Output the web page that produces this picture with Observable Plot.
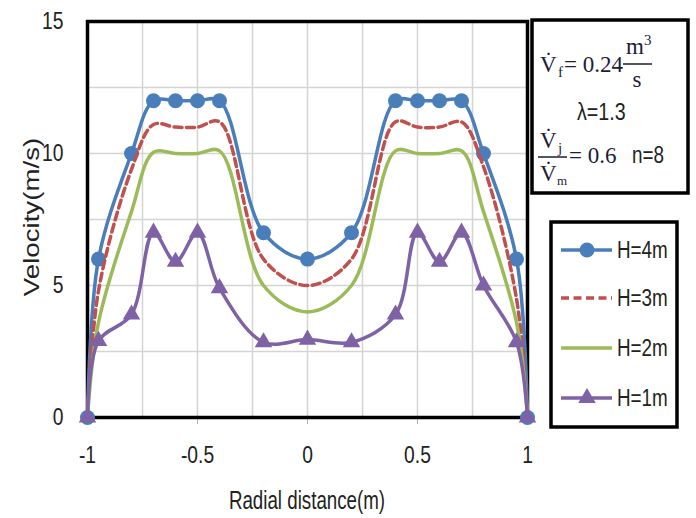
<!DOCTYPE html>
<html><head><meta charset="utf-8">
<script src="https://cdn.jsdelivr.net/npm/d3@7"></script>
<script src="https://cdn.jsdelivr.net/npm/@observablehq/plot@0.6"></script>
<style>
body{margin:0;background:#fff;}
#wrap{position:relative;width:696px;height:518px;overflow:hidden;background:#fff;}
[aria-label="x-axis tick"]{stroke:#b0b0b0;}
</style></head><body><div id="wrap"></div>
<script>
// Data
const radial = [-1, -0.95, -0.8, -0.7, -0.6, -0.5, -0.4, -0.2, 0, 0.2, 0.4, 0.5, 0.6, 0.7, 0.8, 0.95, 1];
const seriesNames = ["H=4m", "H=3m", "H=2m", "H=1m"];
const vH4 = [0, 6, 10, 12, 12, 12, 12, 7, 6, 7, 12, 12, 12, 12, 10, 6, 0];
const vH3 = [0, 4.8, 9.4, 11.1, 11, 11, 11.2, 6, 5, 6, 11.2, 11, 11, 11.2, 9.5, 4.5, 0];
const vH2 = [0, 3.6, 7.8, 10.05, 10, 10, 10.1, 5, 4, 5, 10.1, 10, 10, 10.1, 7.8, 3.6, 0];
const vH1 = [0, 2.9, 3.9, 7, 5.9, 7, 4.9, 2.85, 2.95, 2.85, 3.9, 7, 5.9, 7, 5, 2.85, 0];
const xTicks = [-1, -0.5, 0, 0.5, 1];
const yTicks = [0, 5, 10, 15];
const xGrid = [-0.75, -0.5, -0.25, 0, 0.25, 0.5, 0.75];
const yGrid = [2.5, 5, 7.5, 10, 12.5];
const xLabel = "Radial distance(m)";
const yLabel = "Velocity(m/s)";

const colors = {"H=4m": "#4a7ebb", "H=3m": "#c0504d", "H=2m": "#9bbb59", "H=1m": "#7f62a6"};
const rows = (vals) => radial.map((x, i) => ({x, v: vals[i]}));
const d4 = rows(vH4), d3s = rows(vH3), d2 = rows(vH2), d1 = rows(vH1);
const sans = "'Liberation Sans',Arial,sans-serif";
const K = 0.82; // horizontal squeeze to mimic the narrow face

const chart = Plot.plot({
  width: 696, height: 518,
  marginLeft: 87, marginRight: 169, marginTop: 21, marginBottom: 101,
  x: {domain: [-1, 1], ticks: xTicks, tickSize: 7, tickPadding: 22, tickFormat: d => String(d), label: null},
  y: {domain: [0, 15], ticks: yTicks, tickSize: 0, tickPadding: 24, label: null},
  style: {fontFamily: sans, fontSize: "23.5px", color: "#222", background: "white", overflow: "visible"},
  marks: [
    Plot.ruleX(xGrid, {stroke: "#d4d4d4", strokeWidth: 1.5}),
    Plot.ruleY(yGrid, {stroke: "#d4d4d4", strokeWidth: 1.5}),
    Plot.frame({stroke: "#000", strokeWidth: 3.5}),
    Plot.line(d4, {x: "x", y: "v", stroke: colors["H=4m"], strokeWidth: 3.5, curve: "catmull-rom"}),
    Plot.dot(d4, {x: "x", y: "v", r: 7.5, fill: colors["H=4m"], stroke: "none"}),
    Plot.line(d3s, {x: "x", y: "v", stroke: colors["H=3m"], strokeWidth: 3.5, strokeDasharray: "8,4.5", curve: "catmull-rom"}),
    Plot.line(d2, {x: "x", y: "v", stroke: colors["H=2m"], strokeWidth: 3.5, curve: "catmull-rom"}),
    Plot.line(d1, {x: "x", y: "v", stroke: colors["H=1m"], strokeWidth: 3.5, curve: "catmull-rom"}),
    Plot.dot(d1, {x: "x", y: "v", r: 6.5, symbol: "triangle", fill: colors["H=1m"], stroke: "none"})
  ]
});
document.getElementById("wrap").appendChild(chart);

function squeeze(node, k) {
  const bb = node.getBBox();
  const a = getComputedStyle(node).textAnchor;
  const ax = a === "end" ? bb.x + bb.width : a === "middle" ? bb.x + bb.width / 2 : bb.x;
  const ay = bb.y + bb.height / 2;
  const prev = node.getAttribute("transform") || "";
  node.setAttribute("transform", `${prev} translate(${ax},${ay}) scale(${k},1) translate(${-ax},${-ay})`.trim());
}
chart.querySelectorAll('[aria-label="x-axis tick label"] text, [aria-label="y-axis tick label"] text').forEach(n => squeeze(n, K));

const svg = d3.select(chart);
// axis titles
svg.append("text")
  .attr("transform", "translate(31,217) rotate(-90) scale(1.23,1)")
  .attr("text-anchor", "middle").attr("dominant-baseline", "central")
  .style("font-family", sans).style("font-size", "22.5px").attr("fill", "#222")
  .text(yLabel);
svg.append("text")
  .attr("transform", "translate(307,509) scale(0.75,1)").attr("text-anchor", "middle")
  .style("font-family", sans).style("font-size", "25px").attr("fill", "#222")
  .text(xLabel);

// formula box
const serif = "'Liberation Serif','Times New Roman',serif";
const eqc = "#1d1d33";
const g = svg.append("g");
g.append("rect").attr("x", 532).attr("y", 20).attr("width", 156).attr("height", 173)
  .attr("fill", "white").attr("stroke", "#000").attr("stroke-width", 3.5);
const t = (x, y, s, size, fam, fill, anchor) => g.append("text").attr("x", x).attr("y", y)
  .attr("text-anchor", anchor || "start").style("font-family", fam).style("font-size", size + "px")
  .attr("fill", fill || eqc).text(s);
t(540, 72, "V\u0307", 23, serif);
t(558, 77, "f", 15, serif);
t(564, 72, "= 0.24", 23, serif);
t(626, 54, "m", 23, serif);
t(644, 45, "3", 15, serif);
g.append("line").attr("x1", 623).attr("x2", 652).attr("y1", 64).attr("y2", 64).attr("stroke", eqc).attr("stroke-width", 1.5);
t(637, 87, "s", 23, serif, eqc, "middle");
squeeze(t(577, 120, "\u03bb=1.3", 24, sans, "#222").node(), K);
t(540, 148, "V\u0307", 23, serif);
t(558, 153, "j", 15, serif);
g.append("line").attr("x1", 538).attr("x2", 567).attr("y1", 157).attr("y2", 157).attr("stroke", eqc).attr("stroke-width", 1.5);
t(540, 181, "V\u0307", 23, serif);
t(557, 185, "m", 13, serif);
t(569, 163, "= 0.6", 23, serif);
squeeze(t(632, 163, "n=8", 23, sans, "#222").node(), K);

// legend box
const lg = svg.append("g");
lg.append("rect").attr("x", 551).attr("y", 222).attr("width", 126).attr("height", 205)
  .attr("fill", "white").attr("stroke", "#000").attr("stroke-width", 3.5);
const rowY = [250, 298, 348, 398];
seriesNames.forEach((name, i) => {
  const y = rowY[i], c = colors[name];
  const ln = lg.append("line").attr("x1", 561).attr("x2", 612).attr("y1", y).attr("y2", y)
    .attr("stroke", c).attr("stroke-width", 3.5);
  if (name === "H=3m") ln.attr("stroke-dasharray", "8,4.5");
  if (name === "H=4m") lg.append("circle").attr("cx", 587).attr("cy", y).attr("r", 7.5).attr("fill", c);
  if (name === "H=1m") lg.append("path").attr("transform", `translate(587,${y})`)
    .attr("d", d3.symbol(d3.symbolTriangle, Math.PI * 6.5 * 6.5)()).attr("fill", c);
  const tx = lg.append("text").attr("x", 617).attr("y", y).attr("dominant-baseline", "central")
    .attr("text-anchor", "start")
    .style("font-family", sans).style("font-size", "23px").attr("fill", "#222").text(name);
  squeeze(tx.node(), K);
});
</script></body></html>
